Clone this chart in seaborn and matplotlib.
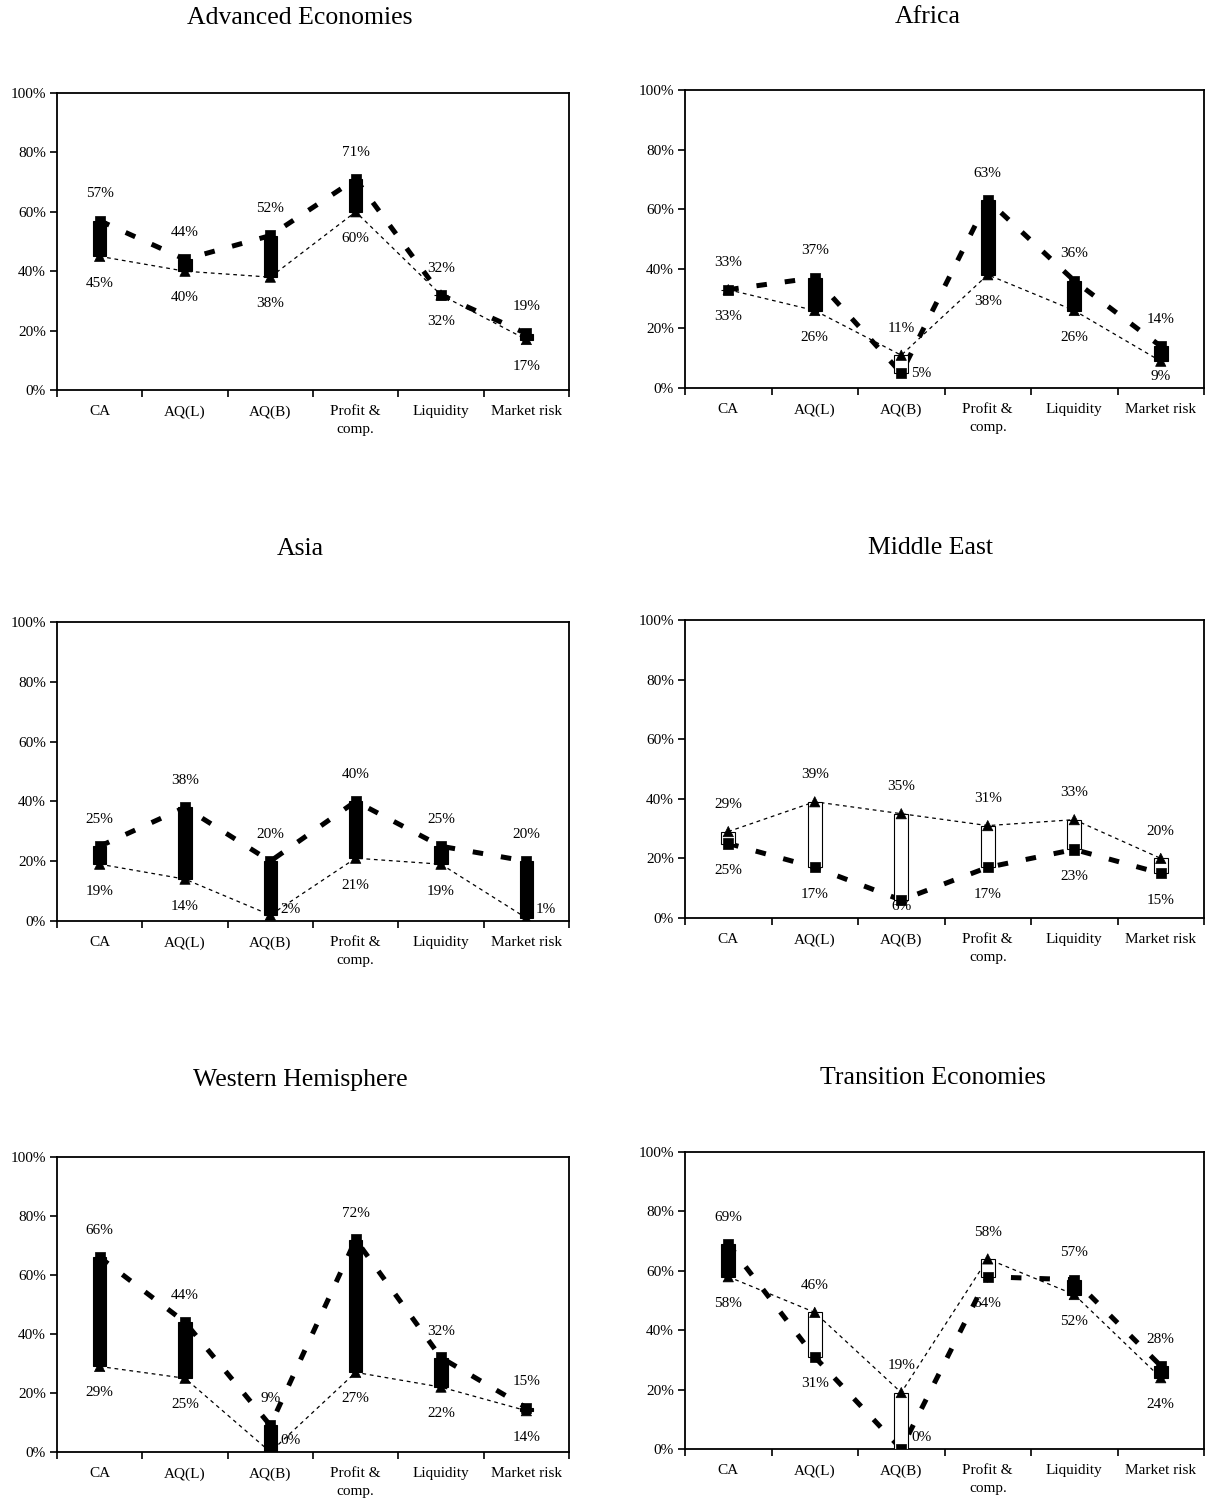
import numpy as np
import pandas as pd
import matplotlib
matplotlib.use("Agg")
import matplotlib.pyplot as plt
import seaborn as sns

# ---------------- data ----------------
categories = ["CA", "AQ(L)", "AQ(B)", "Profit &\ncomp.", "Liquidity", "Market risk"]
titles = ["Advanced Economies", "Africa", "Asia", "Middle East",
          "Western Hemisphere", "Transition Economies"]

# heavy dashed series (square markers)
adv_dashed = [57, 44, 52, 71, 32, 19]
afr_dashed = [33, 37, 5, 63, 36, 14]
asia_dashed = [25, 38, 20, 40, 25, 20]
me_dashed = [25, 17, 6, 17, 23, 15]
wh_dashed = [66, 44, 9, 72, 32, 15]
tr_dashed = [69, 31, 0, 58, 57, 28]

# thin dotted series (triangle markers)
adv_dotted = [45, 40, 38, 60, 32, 17]
afr_dotted = [33, 26, 11, 38, 26, 9]
asia_dotted = [19, 14, 2, 21, 19, 1]
me_dotted = [29, 39, 35, 31, 33, 20]
wh_dotted = [29, 25, 0, 27, 22, 14]
tr_dotted = [58, 46, 19, 64, 52, 24]

yticks = [0, 20, 40, 60, 80, 100]

# in the original, the two labels of this point are printed the other way round
label_swap = {"Transition Economies": [3]}

panels = [
    (titles[0], adv_dashed, adv_dotted),
    (titles[1], afr_dashed, afr_dotted),
    (titles[2], asia_dashed, asia_dotted),
    (titles[3], me_dashed, me_dotted),
    (titles[4], wh_dashed, wh_dotted),
    (titles[5], tr_dashed, tr_dotted),
]

# ---------------- style ----------------
sns.set_theme(style="white")
plt.rcParams["font.family"] = ["Liberation Serif", "DejaVu Serif"]
plt.rcParams["lines.scale_dashes"] = True
for key in ["text.color", "axes.labelcolor", "xtick.color", "ytick.color", "axes.edgecolor"]:
    plt.rcParams[key] = "black"

W, H = 1207, 1508
fig = plt.figure(figsize=(W / 100, H / 100), dpi=100)
fig.patch.set_facecolor("white")

# axes boxes in pixels: (left, top, right, bottom)
boxes = [
    (57, 93, 569, 390), (685, 90, 1204, 388),
    (57, 622, 569, 921), (685, 620, 1204, 918),
    (57, 1157, 569, 1452), (685, 1152, 1204, 1449),
]
title_pos = [(300, 18), (928, 17), (300, 549), (930, 548), (300, 1080), (933, 1078)]


def draw(ax, title, dashed, dotted):
    n = len(categories)
    pos = np.arange(n)
    df = pd.DataFrame({
        "pos": np.concatenate([pos, pos]),
        "value": list(dashed) + list(dotted),
        "series": ["dashed"] * n + ["dotted"] * n,
    })
    # lines
    sns.lineplot(data=df, x="pos", y="value", style="series", size="series",
                 sizes={"dashed": 3.6, "dotted": 0.9},
                 dashes={"dashed": (2.1, 3.6), "dotted": (3, 3)},
                 color="black", legend=False, ax=ax, sort=False, zorder=1)
    # up / down bars
    d = np.asarray(dashed)
    t = np.asarray(dotted)
    lo = np.minimum(d, t)
    hi = np.maximum(d, t)
    colors = np.where(d > t, "black", "white")
    ax.bar(pos, hi - lo, bottom=lo, width=0.16, color=colors,
           edgecolor="black", linewidth=0.8, zorder=3)
    # markers
    sns.scatterplot(data=df, x="pos", y="value", style="series",
                    markers={"dashed": "s", "dotted": "^"},
                    color="black", edgecolor="black", linewidth=0.5, s=55,
                    legend=False, ax=ax, zorder=4)
    # data labels
    swaps = label_swap.get(title, [])
    for i in range(n):
        top_txt, bot_txt = f"{hi[i]}%", f"{lo[i]}%"
        if i in swaps:
            top_txt, bot_txt = bot_txt, top_txt
        ax.text(i, hi[i] + 9, top_txt, ha="center", va="center", fontsize=11,
                color="black", zorder=5)
        if lo[i] <= 5:
            ax.annotate(bot_txt, xy=(i, max(lo[i], 4)), xytext=(7, 0),
                        textcoords="offset points", ha="left", va="center",
                        fontsize=11, color="black", zorder=5)
        else:
            ax.text(i, max(lo[i] - 9, 4), bot_txt, ha="center", va="center",
                    fontsize=11, color="black", zorder=5)

    ax.set_xlim(-0.5, n - 0.5)
    ax.set_ylim(0, 100)
    ax.set_xticks(pos)
    ax.set_xticklabels(categories)
    for lab in ax.get_xticklabels():
        lab.set_linespacing(1.45)
    ax.set_xticks(np.arange(-0.5, n, 1), minor=True)
    ax.tick_params(axis="x", which="major", length=0, pad=11, labelsize=11,
                   bottom=True, labelcolor="black")
    ax.tick_params(axis="x", which="minor", length=5, width=1.2, direction="out",
                   bottom=True, color="black")
    ax.set_yticks(yticks)
    ax.set_yticklabels([f"{v}%" for v in yticks])
    ax.tick_params(axis="y", length=5, width=1.2, direction="out", left=True,
                   labelsize=11, pad=3, color="black", labelcolor="black")
    ax.set_xlabel("")
    ax.set_ylabel("")
    ax.set_facecolor("white")
    for s in ax.spines.values():
        s.set_visible(True)
        s.set_color("black")
        s.set_linewidth(1.3)


for (title, dashed, dotted), (l, t, r, b), (tx, ty) in zip(panels, boxes, title_pos):
    ax = fig.add_axes([l / W, 1 - b / H, (r - l) / W, (b - t) / H])
    draw(ax, title, dashed, dotted)
    fig.text(tx / W, 1 - ty / H, title, ha="center", va="center", fontsize=18.5,
             color="black")

fig.savefig("out.png", dpi=100, facecolor="white")
